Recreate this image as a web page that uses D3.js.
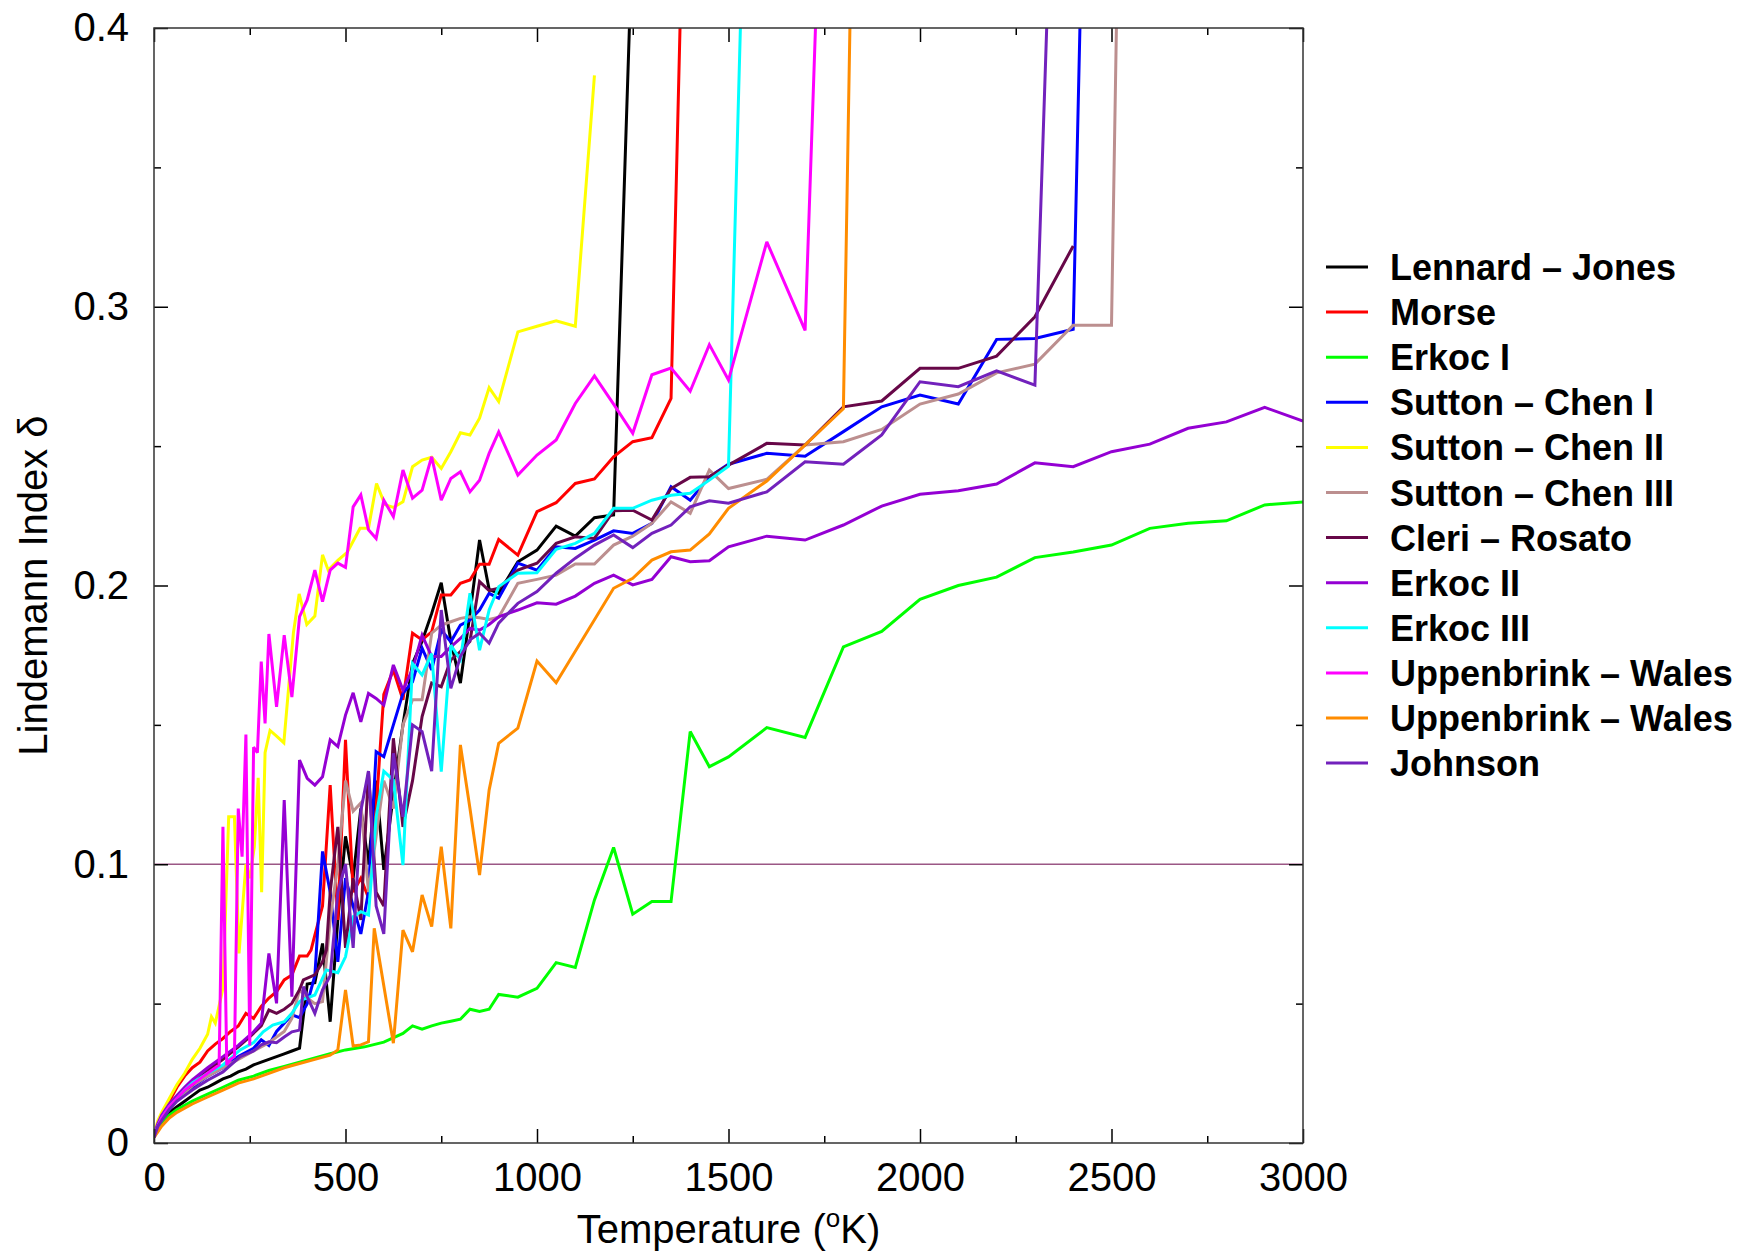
<!DOCTYPE html>
<html>
<head>
<meta charset="utf-8">
<script src="https://cdn.jsdelivr.net/npm/d3@7"></script>
<style>
  html, body { margin: 0; padding: 0; background: #fff; }
  svg { display: block; }
  text { font-family: "Liberation Sans", Arial, Helvetica, sans-serif; }
</style>
</head>
<body>
<svg id="chart" width="1738" height="1252"></svg>
<script>
// ---------------- DATA ----------------
const seriesNames = ["Lennard \u2013 Jones", "Morse", "Erkoc I", "Sutton \u2013 Chen I", "Sutton \u2013 Chen II",
  "Sutton \u2013 Chen III", "Cleri \u2013 Rosato", "Erkoc II", "Erkoc III", "Uppenbrink \u2013 Wales",
  "Uppenbrink \u2013 Wales", "Johnson"];

const ljData = [[0,0.002],[10,0.006],[20,0.008],[40,0.011],[60,0.013],[80,0.015],[100,0.017],[120,0.019],[140,0.020],[160,0.0215],[180,0.023],[200,0.024],[220,0.0255],[240,0.0265],[260,0.028],[280,0.029],[300,0.030],[320,0.031],[340,0.032],[360,0.033],[380,0.034],[400,0.057],[420,0.0575],[440,0.0716],[460,0.0435],[480,0.08],[500,0.11],[520,0.095],[540,0.12],[560,0.1],[580,0.13],[600,0.098],[625,0.125],[650,0.15],[675,0.172],[700,0.18],[725,0.19],[750,0.201],[775,0.18],[800,0.165],[825,0.19],[850,0.2163],[875,0.1986],[900,0.1972],[950,0.2085],[1000,0.2127],[1050,0.2213],[1100,0.2177],[1150,0.2243],[1200,0.2253],[1250,0.437]];

const morseData = [[0,0.002],[10,0.007],[20,0.01],[40,0.015],[60,0.02],[80,0.024],[100,0.027],[120,0.029],[140,0.033],[160,0.0355],[180,0.0375],[200,0.04],[220,0.042],[240,0.0465],[260,0.0447],[280,0.049],[300,0.052],[320,0.0543],[340,0.0585],[360,0.0603],[380,0.0671],[400,0.0671],[410,0.0692],[420,0.0746],[440,0.085],[460,0.1284],[480,0.08],[500,0.1446],[520,0.09],[540,0.095],[560,0.088],[580,0.12],[600,0.161],[625,0.1697],[650,0.159],[675,0.1829],[700,0.1805],[725,0.1834],[750,0.1966],[775,0.1966],[800,0.2008],[825,0.202],[850,0.2076],[875,0.2076],[900,0.2165],[950,0.2109],[1000,0.2265],[1050,0.2297],[1100,0.2366],[1150,0.2382],[1200,0.2462],[1250,0.2516],[1300,0.253],[1350,0.2671],[1400,0.551]];

const erkoc1Data = [[0,0.002],[10,0.005],[20,0.007],[40,0.01],[60,0.012],[80,0.0135],[100,0.015],[140,0.0175],[180,0.02],[220,0.0225],[260,0.024],[300,0.026],[340,0.0275],[380,0.029],[420,0.0305],[460,0.032],[500,0.0334],[550,0.0345],[600,0.0362],[650,0.0393],[675,0.042],[700,0.0408],[725,0.042],[750,0.043],[775,0.0437],[800,0.0444],[825,0.048],[850,0.0472],[875,0.048],[900,0.0533],[950,0.0523],[1000,0.0555],[1050,0.0647],[1100,0.063],[1150,0.0872],[1200,0.106],[1250,0.0821],[1300,0.0866],[1350,0.0866],[1400,0.1476],[1450,0.135],[1500,0.1385],[1600,0.149],[1700,0.1455],[1800,0.178],[1900,0.1835],[2000,0.195],[2100,0.2],[2200,0.203],[2300,0.21],[2400,0.212],[2500,0.2145],[2600,0.2205],[2700,0.2223],[2800,0.2232],[2900,0.2289],[3000,0.23]];

const sc1Data = [[0,0.002],[10,0.006],[20,0.009],[40,0.013],[60,0.016],[80,0.018],[100,0.02],[140,0.024],[180,0.027],[220,0.031],[260,0.034],[280,0.037],[300,0.035],[320,0.04],[340,0.043],[360,0.046],[380,0.045],[400,0.05],[420,0.06],[440,0.1046],[460,0.09],[480,0.065],[500,0.095],[520,0.085],[540,0.075],[560,0.09],[580,0.1404],[600,0.1386],[625,0.15],[650,0.1613],[675,0.1655],[700,0.1775],[725,0.1697],[750,0.184],[775,0.1798],[800,0.1858],[825,0.1876],[850,0.1912],[875,0.1972],[900,0.1954],[950,0.208],[1000,0.2055],[1050,0.2139],[1100,0.2133],[1150,0.2163],[1200,0.2196],[1250,0.2187],[1300,0.2223],[1350,0.2354],[1400,0.2306],[1450,0.239],[1500,0.2435],[1600,0.2474],[1700,0.2464],[1800,0.2552],[1900,0.2641],[2000,0.2683],[2100,0.2651],[2200,0.2883],[2300,0.2886],[2400,0.2919],[2450,0.6]];

const sc2Data = [[0,0.003],[10,0.008],[20,0.011],[40,0.016],[60,0.021],[80,0.025],[100,0.03],[120,0.034],[140,0.039],[150,0.0453],[160,0.043],[180,0.0555],[195,0.117],[210,0.117],[222,0.068],[240,0.1],[250,0.095],[262,0.1063],[272,0.131],[281,0.09],[290,0.14],[303,0.148],[320,0.146],[339,0.1436],[364,0.183],[379,0.197],[399,0.186],[420,0.189],[440,0.211],[455,0.2055],[480,0.209],[505,0.212],[538,0.2205],[560,0.2205],[581,0.2366],[603,0.229],[625,0.228],[650,0.23],[675,0.2426],[700,0.245],[725,0.246],[750,0.242],[775,0.248],[800,0.2548],[825,0.254],[850,0.26],[875,0.271],[900,0.266],[950,0.291],[1000,0.293],[1050,0.295],[1100,0.293],[1150,0.383]];

const sc3Data = [[0,0.002],[10,0.006],[20,0.009],[40,0.013],[60,0.016],[80,0.018],[100,0.0205],[140,0.024],[180,0.027],[220,0.030],[260,0.033],[300,0.036],[320,0.038],[340,0.04],[360,0.0447],[380,0.0549],[400,0.052],[420,0.05],[440,0.0507],[460,0.08],[480,0.1],[500,0.13],[520,0.119],[540,0.122],[560,0.09],[580,0.11],[600,0.13],[625,0.12],[650,0.15],[675,0.159],[700,0.159],[725,0.1829],[750,0.1858],[775,0.187],[800,0.1882],[825,0.1888],[850,0.1884],[875,0.1878],[900,0.1886],[950,0.2008],[1000,0.2022],[1050,0.2037],[1100,0.2077],[1150,0.2077],[1200,0.2145],[1250,0.2177],[1300,0.2223],[1350,0.23],[1400,0.2259],[1450,0.2414],[1500,0.2348],[1600,0.2381],[1700,0.2504],[1800,0.2516],[1900,0.256],[2000,0.2651],[2100,0.2687],[2200,0.2763],[2300,0.2794],[2400,0.2934],[2500,0.2934],[2550,0.71]];

const cleriData = [[0,0.002],[10,0.006],[20,0.009],[40,0.013],[60,0.016],[80,0.019],[100,0.021],[140,0.026],[180,0.03],[220,0.0345],[250,0.0381],[280,0.042],[300,0.0477],[320,0.0465],[340,0.048],[360,0.0501],[380,0.055],[390,0.0585],[420,0.0603],[440,0.065],[450,0.0692],[460,0.09],[480,0.1134],[500,0.07],[520,0.095],[540,0.08],[560,0.1334],[580,0.09],[600,0.085],[625,0.1452],[650,0.1134],[675,0.13],[700,0.153],[725,0.165],[750,0.1637],[775,0.1733],[800,0.1763],[825,0.18],[850,0.2014],[875,0.1982],[900,0.199],[950,0.2055],[1000,0.208],[1050,0.2151],[1100,0.2175],[1150,0.2169],[1200,0.2268],[1250,0.227],[1300,0.2235],[1350,0.2348],[1400,0.2388],[1450,0.239],[1500,0.2432],[1600,0.251],[1700,0.2504],[1800,0.2641],[1900,0.2662],[2000,0.2779],[2100,0.2779],[2200,0.2823],[2300,0.2964],[2400,0.3218]];

const erkoc2Data = [[0,0.003],[10,0.007],[20,0.01],[40,0.014],[60,0.017],[80,0.02],[100,0.0226],[140,0.027],[180,0.031],[220,0.035],[260,0.0399],[280,0.043],[300,0.068],[320,0.0501],[340,0.123],[360,0.0525],[380,0.1374],[400,0.1308],[420,0.1284],[440,0.1314],[460,0.1446],[480,0.1422],[500,0.1535],[520,0.1615],[540,0.1511],[560,0.1613],[580,0.1595],[600,0.1571],[625,0.1715],[650,0.1625],[675,0.17],[700,0.1822],[725,0.1745],[750,0.1745],[775,0.178],[800,0.181],[825,0.1846],[850,0.184],[875,0.186],[900,0.1888],[950,0.1912],[1000,0.1938],[1050,0.1933],[1100,0.1962],[1150,0.2008],[1200,0.2037],[1250,0.2002],[1300,0.2022],[1350,0.2103],[1400,0.2085],[1450,0.2089],[1500,0.2139],[1600,0.2177],[1700,0.2163],[1800,0.2217],[1900,0.2285],[2000,0.2327],[2100,0.234],[2200,0.2364],[2300,0.244],[2400,0.2426],[2500,0.248],[2600,0.2507],[2700,0.2564],[2800,0.2587],[2900,0.2639],[3000,0.259]];

const erkoc3Data = [[0,0.002],[10,0.006],[20,0.009],[40,0.013],[60,0.016],[80,0.019],[100,0.0215],[140,0.025],[180,0.028],[225,0.0334],[260,0.036],[285,0.0399],[310,0.0423],[340,0.0435],[360,0.0465],[380,0.0507],[390,0.0515],[420,0.0531],[450,0.0621],[480,0.0611],[500,0.0668],[520,0.0812],[540,0.083],[560,0.0818],[580,0.117],[600,0.1334],[625,0.1302],[650,0.0997],[675,0.172],[700,0.1679],[725,0.1756],[750,0.1332],[775,0.1786],[800,0.1733],[825,0.1972],[850,0.1768],[875,0.1912],[900,0.1996],[950,0.2044],[1000,0.2046],[1050,0.213],[1100,0.2151],[1150,0.2187],[1200,0.2277],[1250,0.2277],[1300,0.2306],[1350,0.2324],[1400,0.2331],[1450,0.2378],[1500,0.2428],[1550,0.496]];

const uw1Data = [[0,0.002],[10,0.006],[20,0.009],[40,0.013],[60,0.016],[80,0.019],[100,0.021],[120,0.023],[140,0.025],[160,0.027],[170,0.028],[180,0.1134],[190,0.028],[200,0.03],[210,0.031],[220,0.12],[230,0.1027],[240,0.1465],[250,0.035],[260,0.142],[270,0.14],[280,0.1727],[290,0.1505],[300,0.1826],[320,0.1565],[340,0.1822],[360,0.16],[380,0.1888],[400,0.1948],[420,0.2055],[440,0.1942],[460,0.2055],[480,0.208],[500,0.2065],[520,0.2282],[540,0.2325],[560,0.22],[580,0.2169],[600,0.2306],[625,0.2247],[650,0.2414],[675,0.2313],[700,0.2342],[725,0.2462],[750,0.2306],[775,0.2384],[800,0.2408],[825,0.2336],[850,0.2378],[875,0.2474],[900,0.2551],[950,0.2396],[1000,0.2468],[1050,0.2522],[1100,0.2653],[1150,0.2752],[1200,0.2651],[1250,0.2546],[1300,0.2756],[1350,0.278],[1400,0.2697],[1450,0.2864],[1500,0.2737],[1600,0.3233],[1700,0.2915],[1750,0.492]];

const uw2Data = [[0,0.002],[10,0.004],[20,0.006],[40,0.009],[60,0.011],[80,0.0125],[100,0.014],[140,0.0165],[180,0.019],[220,0.0215],[260,0.023],[300,0.025],[340,0.027],[380,0.0285],[420,0.03],[460,0.0315],[480,0.0334],[500,0.0549],[520,0.0348],[540,0.0352],[560,0.0363],[575,0.077],[625,0.0358],[650,0.0764],[675,0.0686],[700,0.089],[725,0.0776],[750,0.1063],[775,0.077],[800,0.1428],[825,0.12],[850,0.0961],[875,0.1266],[900,0.1434],[950,0.1488],[1000,0.1729],[1050,0.1651],[1200,0.199],[1250,0.2026],[1300,0.2091],[1350,0.2121],[1400,0.2127],[1450,0.2185],[1500,0.2277],[1600,0.2375],[1700,0.2504],[1800,0.2635],[1850,0.665]];

const johnsonData = [[0,0.002],[10,0.006],[20,0.008],[40,0.012],[60,0.015],[80,0.017],[100,0.019],[140,0.0225],[180,0.0255],[225,0.031],[260,0.033],[280,0.0352],[300,0.0363],[320,0.036],[340,0.038],[360,0.0399],[380,0.0405],[390,0.0561],[400,0.0525],[420,0.0465],[440,0.0549],[460,0.06],[480,0.09],[500,0.1],[520,0.07],[540,0.1191],[560,0.1334],[580,0.085],[600,0.075],[625,0.1398],[650,0.117],[675,0.15],[700,0.1476],[725,0.1334],[750,0.1912],[775,0.1631],[800,0.1745],[825,0.1805],[850,0.1829],[875,0.1793],[900,0.1865],[950,0.1936],[1000,0.1978],[1050,0.2044],[1100,0.2098],[1150,0.2145],[1200,0.2181],[1250,0.2136],[1300,0.2187],[1350,0.2217],[1400,0.2282],[1450,0.2304],[1500,0.2295],[1600,0.2336],[1700,0.2444],[1800,0.2435],[1900,0.254],[2000,0.2731],[2100,0.2713],[2200,0.277],[2300,0.2719],[2350,0.48]];

const seriesData = [ljData, morseData, erkoc1Data, sc1Data, sc2Data, sc3Data, cleriData,
  erkoc2Data, erkoc3Data, uw1Data, uw2Data, johnsonData];

const seriesColors = ["#000000", "#ff0000", "#00ff00", "#0000ff", "#ffff00", "#bc8f8f",
  "#670748", "#9400d3", "#00ffff", "#ff00ff", "#ff8c00", "#7221bc"];

const xTickValues = [0, 500, 1000, 1500, 2000, 2500, 3000];
const xMinorValues = [250, 750, 1250, 1750, 2250, 2750];
const yTickValues = [0, 0.1, 0.2, 0.3, 0.4];
const yTickLabels = ["0", "0.1", "0.2", "0.3", "0.4"];
const yMinorValues = [0.05, 0.15, 0.25, 0.35];
const refLineValue = 0.1;

// ---------------- LAYOUT ----------------
const svg = d3.select("#chart");
const L = 154, R = 1303, T = 28, B = 1143;
const x = d3.scaleLinear().domain([0, 3000]).range([L, R]);
const y = d3.scaleLinear().domain([0, 0.4]).range([B, T]);

svg.append("rect").attr("width", 1738).attr("height", 1252).attr("fill", "#fff");

svg.append("defs").append("clipPath").attr("id", "plotclip")
  .append("rect").attr("x", L).attr("y", T).attr("width", R - L).attr("height", B - T);

// reference line
svg.append("line")
  .attr("x1", x(0)).attr("x2", x(3000))
  .attr("y1", y(refLineValue)).attr("y2", y(refLineValue))
  .attr("stroke", "#8a3a70").attr("stroke-width", 1.6).attr("stroke-opacity", 0.85);

// series lines
const line = d3.line().x(d => x(d[0])).y(d => y(d[1]));
const gLines = svg.append("g").attr("clip-path", "url(#plotclip)");
seriesData.forEach((data, i) => {
  gLines.append("path")
    .datum(data)
    .attr("d", line)
    .attr("fill", "none")
    .attr("stroke", seriesColors[i])
    .attr("stroke-width", 3)
    .attr("stroke-linejoin", "miter")
    .attr("stroke-miterlimit", 3);
});

// axes (ticks inward on all sides)
function styleAxis(g) {
  g.select(".domain").remove();
  g.selectAll(".tick line").attr("stroke", "#000").attr("stroke-width", 1.5);
  g.selectAll("text").attr("fill", "#000").style("font-size", "40px")
    .style("font-family", '"Liberation Sans", Arial, sans-serif');
}
svg.append("g").attr("transform", `translate(0,${B})`)
  .call(d3.axisBottom(x).tickValues(xTickValues).tickSize(-14).tickSizeOuter(0).tickPadding(20).tickFormat(d3.format("d")))
  .call(styleAxis);
svg.append("g").attr("transform", `translate(0,${B})`)
  .call(d3.axisBottom(x).tickValues(xMinorValues).tickSize(-7).tickSizeOuter(0).tickFormat(""))
  .call(styleAxis);
svg.append("g").attr("transform", `translate(0,${T})`)
  .call(d3.axisTop(x).tickValues(xTickValues).tickSize(-14).tickSizeOuter(0).tickFormat(""))
  .call(styleAxis);
svg.append("g").attr("transform", `translate(0,${T})`)
  .call(d3.axisTop(x).tickValues(xMinorValues).tickSize(-7).tickSizeOuter(0).tickFormat(""))
  .call(styleAxis);
svg.append("g").attr("transform", `translate(${L},0)`)
  .call(d3.axisLeft(y).tickValues(yTickValues).tickSize(-14).tickSizeOuter(0).tickPadding(25)
    .tickFormat((d, i) => yTickLabels[i]))
  .call(styleAxis);
svg.append("g").attr("transform", `translate(${L},0)`)
  .call(d3.axisLeft(y).tickValues(yMinorValues).tickSize(-7).tickSizeOuter(0).tickFormat(""))
  .call(styleAxis);
svg.append("g").attr("transform", `translate(${R},0)`)
  .call(d3.axisRight(y).tickValues(yTickValues).tickSize(-14).tickSizeOuter(0).tickFormat(""))
  .call(styleAxis);
svg.append("g").attr("transform", `translate(${R},0)`)
  .call(d3.axisRight(y).tickValues(yMinorValues).tickSize(-7).tickSizeOuter(0).tickFormat(""))
  .call(styleAxis);

// frame
svg.append("rect").attr("x", L).attr("y", T).attr("width", R - L).attr("height", B - T)
  .attr("fill", "none").attr("stroke", "#333").attr("stroke-width", 1.5);

// axis titles
const xt = svg.append("text").attr("x", (L + R) / 2).attr("y", 1243)
  .attr("text-anchor", "middle").style("font-size", "40px").attr("fill", "#000");
xt.append("tspan").text("Temperature (");
xt.append("tspan").text("o").style("font-size", "26px").attr("dy", -16);
xt.append("tspan").text("K)").attr("dy", 16);

svg.append("text").attr("transform", `translate(47,${(T + B) / 2}) rotate(-90)`)
  .attr("text-anchor", "middle").style("font-size", "40px").attr("fill", "#000")
  .text("Lindemann Index \u03b4");

// legend
const lg = svg.append("g");
seriesNames.forEach((name, i) => {
  const cy = 267 + i * 45.1;
  lg.append("line").attr("x1", 1326).attr("x2", 1368).attr("y1", cy).attr("y2", cy)
    .attr("stroke", seriesColors[i]).attr("stroke-width", 3);
  lg.append("text").attr("x", 1390).attr("y", cy + 13)
    .style("font-size", "36px").style("font-weight", "bold").attr("fill", "#000")
    .text(name);
});
</script>
</body>
</html>
